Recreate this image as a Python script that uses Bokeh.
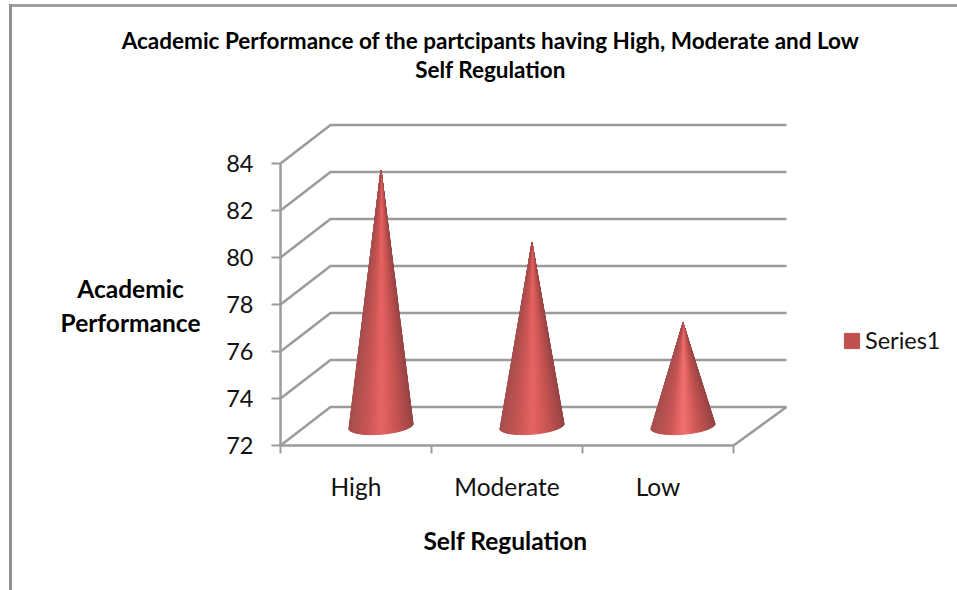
from bokeh.plotting import figure
from bokeh.embed import file_html
from bokeh.resources import INLINE
from bokeh.models import (Range1d, FixedTicker, Label, Legend, LegendItem)
import math

categories = ["High", "Moderate", "Low"]
values = [82.9, 79.8, 76.4]
y_ticks = [72, 74, 76, 78, 80, 82, 84]
series_name = "Series1"
title_text = "Academic Performance of the partcipants having High, Moderate and Low\nSelf Regulation"
x_title = "Self Regulation"
y_title = "Academic\nPerformance"

# layout (pixels)
W, H = 957, 590
AX_L, AX_B = 280, 445             # where the front axes meet
PX_X, PX_Y = 151.0, 23.5          # pixels per category / per value unit
DX, DY = 50 / PX_X, 38.5 / PX_Y   # depth of the fake 3-D box
OVER = 3 / PX_X
RX, RY, TILT = 32 / PX_X, 8 / PX_Y, 2.5 / PX_Y

FONT = "Lato"
GREY = "#9b9b9b"

def X(px): return (px - AX_L) / PX_X
def Y(py): return y_ticks[0] + (AX_B - py) / PX_Y

p = figure(width=W, height=H, output_backend="svg", toolbar_location=None,
           x_range=Range1d(X(0), X(W)), y_range=Range1d(Y(H), Y(0)),
           min_border=0, min_border_left=0, min_border_right=0, min_border_top=0, min_border_bottom=0,
           outline_line_color=None, background_fill_color=None, border_fill_color=None)
p.styles = {"background": "linear-gradient(#909090,#909090) 9px 4px/3px 100% no-repeat,"
                          "linear-gradient(#a0a0a0,#a0a0a0) 9px 4px/100% 3px no-repeat"}
p.grid.visible = False

# walls
xs, ys = [], []
n = len(categories)
for v in y_ticks:
    xs.append([0, DX, n + DX + OVER]); ys.append([v, v + DY, v + DY])
xs.append([n, n + DX + OVER]); ys.append([y_ticks[0], y_ticks[0] + DY])
p.multi_line(xs, ys, line_color=GREY, line_width=2.5)

# cones, built from vertical slices
def shade(t, boost):
    stops = [(-1.0, (168, 78, 78)), (-0.45, (200, 85, 83)), (0.0, (232 + boost, 100 + boost, 100 + boost)),
             (0.5, (198, 83, 81)), (1.0, (150, 68, 68))]
    for (a, ca), (b, cb) in zip(stops, stops[1:]):
        if a <= t <= b:
            f = (t - a) / (b - a)
            c = [round(ca[i] + (cb[i] - ca[i]) * f) for i in range(3)]
            return "#%02x%02x%02x" % tuple(c)
    return "#c0504d"

px, py, pc = [], [], []
SLICES = 48
for i, v in enumerate(values):
    cx = i + 0.5 + DX / 2
    cy = y_ticks[0] + DY / 2
    boost = 12 if i == 2 else 0
    for k in range(SLICES):
        a0 = math.pi * k / SLICES
        a1 = math.pi * (k + 1) / SLICES
        x0, x1 = cx + RX * math.cos(a0), cx + RX * math.cos(a1)
        y0 = cy + TILT * math.cos(a0) - RY * math.sin(a0)
        y1 = cy + TILT * math.cos(a1) - RY * math.sin(a1)
        px.append([cx, x0, x1]); py.append([v + DY / 2, y0, y1])
        pc.append(shade(math.cos((a0 + a1) / 2), boost))
p.patches(px, py, fill_color=pc, line_color=pc, line_width=1)

# axes
ya = p.yaxis[0]
ya.fixed_location = 0
ya.bounds = (y_ticks[0], y_ticks[-1])
ya.ticker = FixedTicker(ticks=y_ticks)
ya.axis_line_color = GREY; ya.axis_line_width = 2.5
ya.major_tick_line_color = GREY; ya.major_tick_line_width = 2
ya.major_tick_in = 0; ya.major_tick_out = 9
ya.minor_tick_line_color = None
ya.major_label_text_font = FONT; ya.major_label_text_font_size = "23.5px"
ya.major_label_text_color = "#111111"; ya.major_label_standoff = 18

xa = p.xaxis[0]
xa.fixed_location = y_ticks[0]
xa.bounds = (0, n)
xa.ticker = FixedTicker(ticks=[i + 0.5 for i in range(n)], minor_ticks=list(range(n + 1)))
xa.major_label_overrides = {i + 0.5: c for i, c in enumerate(categories)}
xa.axis_line_color = GREY; xa.axis_line_width = 2.5
xa.major_tick_line_color = None
xa.minor_tick_line_color = GREY; xa.minor_tick_line_width = 2
xa.minor_tick_in = 0; xa.minor_tick_out = 8
xa.major_label_text_font = FONT; xa.major_label_text_font_size = "24.5px"
xa.major_label_text_color = "#111111"; xa.major_label_standoff = 18

def add_text(text, cx_px, top_px, size, style="bold", lh=1.2):
    p.add_layout(Label(x=X(cx_px), y=Y(top_px), text=text, text_font=FONT, text_font_style=style,
                       text_font_size=size, text_color="black", text_align="center",
                       text_baseline="top", text_line_height=lh))

add_text(title_text, 490, 26, "22.5px", lh=1.09)
add_text(y_title, 130, 273, "24.5px", lh=1.18)
add_text(x_title, 505, 525, "24.5px")

# legend
dummy = p.quad(left=[float("nan")], right=[float("nan")], top=[float("nan")], bottom=[float("nan")],
               fill_color="#c0504d", line_color="#c0504d")
legend = Legend(items=[LegendItem(label=series_name, renderers=[dummy])],
                location=(842, 236), padding=0, margin=0, spacing=0,
                glyph_width=19, glyph_height=19, label_standoff=4,
                label_text_font=FONT, label_text_font_size="23.5px", label_text_color="#111111",
                border_line_color=None, background_fill_alpha=0)
p.add_layout(legend)

open("out.html", "w").write(file_html(p, INLINE))
